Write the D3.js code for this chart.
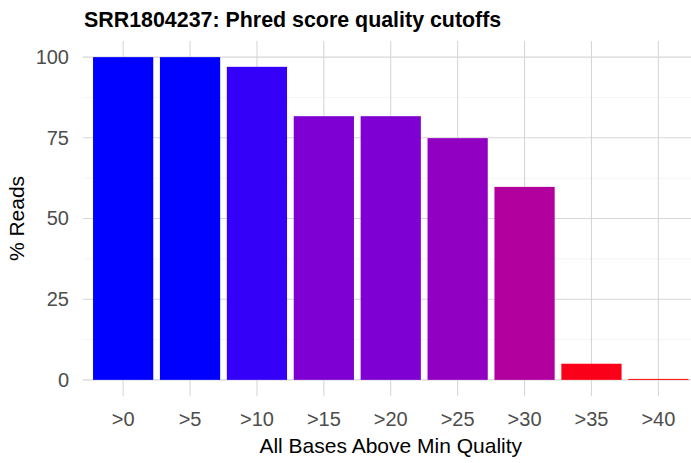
<!DOCTYPE html>
<html>
<head>
<meta charset="utf-8">
<script src="https://cdn.jsdelivr.net/npm/d3@7"></script>
<style>
	body { margin: 0; background: #fff; }
	text { font-family: "Liberation Sans", Arial, sans-serif; }
</style>
</head>
<body>
<svg id="chart" width="691" height="463"></svg>
<script>
// data
var cutoffs = ['>0', '>5', '>10', '>15', '>20', '>25', '>30', '>35', '>40'];
var pctReads = [100, 100, 97.0, 81.7, 81.7, 74.9, 59.8, 5.0, 0.3];
var yTicks = [0, 25, 50, 75, 100];
var yMinor = [12.5, 37.5, 62.5, 87.5];

var titleText = 'SRR1804237: Phred score quality cutoffs';
var xTitle = 'All Bases Above Min Quality';
var yTitle = '% Reads';

// panel box (ggplot-ish, with expansion)
var panel = { left: 83, right: 698.5, top: 41, bottom: 396 };

var svg = d3.select('#chart');

var x = d3.scaleBand()
	.domain(cutoffs)
	.range([panel.left, panel.right])
	.paddingInner(0.1)
	.paddingOuter(0.15);

var y = d3.scaleLinear()
	.domain([-5, 105])
	.range([panel.bottom, panel.top]);

// fill gradient low=red high=blue, lab interpolation like scales::seq_gradient_pal
var fill = d3.scaleLinear()
	.domain(d3.extent(pctReads))
	.range(['#ff0000', '#0000ff'])
	.interpolate(d3.interpolateLab);

var grid = svg.append('g').attr('class', 'grid');

// minor horizontal
grid.selectAll('line.minor').data(yMinor).enter().append('line')
	.attr('class', 'minor')
	.attr('x1', panel.left).attr('x2', panel.right)
	.attr('y1', (d) => y(d)).attr('y2', (d) => y(d))
	.attr('stroke', '#ececec').attr('stroke-width', 0.6);

// major horizontal
grid.selectAll('line.hmajor').data(yTicks).enter().append('line')
	.attr('class', 'hmajor')
	.attr('x1', panel.left).attr('x2', panel.right)
	.attr('y1', (d) => y(d)).attr('y2', (d) => y(d))
	.attr('stroke', '#d6d6d6').attr('stroke-width', 1.07);

// major vertical
grid.selectAll('line.vmajor').data(cutoffs).enter().append('line')
	.attr('class', 'vmajor')
	.attr('x1', (d) => x(d) + x.bandwidth() / 2).attr('x2', (d) => x(d) + x.bandwidth() / 2)
	.attr('y1', panel.top).attr('y2', panel.bottom)
	.attr('stroke', '#d6d6d6').attr('stroke-width', 1.07);

// bars
svg.append('g').selectAll('rect').data(pctReads).enter().append('rect')
	.attr('x', (d, i) => x(cutoffs[i]))
	.attr('width', x.bandwidth())
	.attr('y', (d) => y(d))
	.attr('height', (d) => y(0) - y(d))
	.attr('fill', (d) => fill(d));

// y axis labels
var yAxis = svg.append('g')
	.attr('transform', 'translate(' + (panel.left - 14) + ',0)')
	.call(d3.axisLeft(y).tickValues(yTicks).tickSize(0).tickPadding(0));
yAxis.select('.domain').remove();
yAxis.selectAll('text')
	.attr('font-size', 20)
	.attr('fill', '#4d4d4d')
	.style('font-family', '"Liberation Sans", Arial, sans-serif');

// x axis labels
var xAxis = svg.append('g')
	.attr('transform', 'translate(0,' + (panel.bottom + 11) + ')')
	.call(d3.axisBottom(x).tickSize(0).tickPadding(0));
xAxis.select('.domain').remove();
xAxis.selectAll('text')
	.attr('dy', null)
	.attr('y', 19)
	.attr('font-size', 20)
	.attr('fill', '#4d4d4d')
	.style('font-family', '"Liberation Sans", Arial, sans-serif');

// titles
svg.append('text')
	.attr('x', (panel.left + panel.right) / 2)
	.attr('y', 453)
	.attr('text-anchor', 'middle')
	.attr('font-size', 21)
	.attr('fill', '#000')
	.text(xTitle);

svg.append('text')
	.attr('transform', 'translate(24,' + (panel.top + panel.bottom) / 2 + ') rotate(-90)')
	.attr('text-anchor', 'middle')
	.attr('font-size', 21)
	.attr('fill', '#000')
	.text(yTitle);

svg.append('text')
	.attr('x', 84)
	.attr('y', 27)
	.attr('font-size', 21.4)
	.attr('font-weight', 'bold')
	.attr('fill', '#000')
	.text(titleText);
</script>
</body>
</html>
